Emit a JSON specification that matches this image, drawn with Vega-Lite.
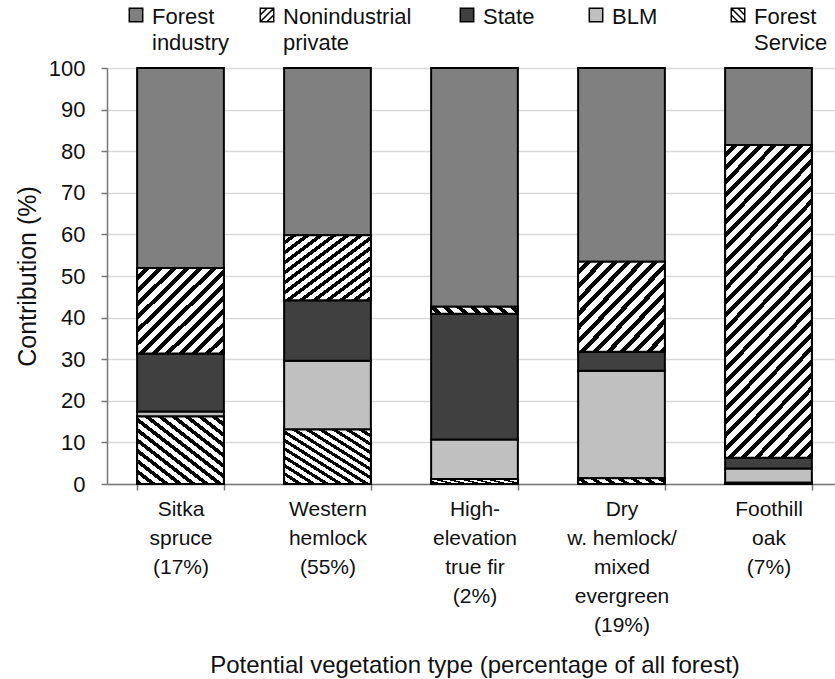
{
  "$schema": "https://vega.github.io/schema/vega-lite/v6.json",
  "autosize": {"type": "none"},
  "padding": {"left": 107, "top": 68, "right": 0, "bottom": 195},
  "width": 728,
  "height": 416,
  "background": "white",
  "config": {
    "view": {"stroke": null},
    "font": "Liberation Sans"
  },
  "data": {
    "values": [
      {"type": "Sitka|spruce|(17%)", "owner": "Forest Service", "value": 16.2},
      {"type": "Sitka|spruce|(17%)", "owner": "BLM", "value": 1.2},
      {"type": "Sitka|spruce|(17%)", "owner": "State", "value": 14.0},
      {"type": "Sitka|spruce|(17%)", "owner": "Nonindustrial private", "value": 20.5},
      {"type": "Sitka|spruce|(17%)", "owner": "Forest industry", "value": 48.1},
      {"type": "Western|hemlock|(55%)", "owner": "Forest Service", "value": 13.1},
      {"type": "Western|hemlock|(55%)", "owner": "BLM", "value": 16.5},
      {"type": "Western|hemlock|(55%)", "owner": "State", "value": 14.6},
      {"type": "Western|hemlock|(55%)", "owner": "Nonindustrial private", "value": 15.6},
      {"type": "Western|hemlock|(55%)", "owner": "Forest industry", "value": 40.2},
      {"type": "High-|elevation|true fir|(2%)", "owner": "Forest Service", "value": 1.2},
      {"type": "High-|elevation|true fir|(2%)", "owner": "BLM", "value": 9.5},
      {"type": "High-|elevation|true fir|(2%)", "owner": "State", "value": 30.2},
      {"type": "High-|elevation|true fir|(2%)", "owner": "Nonindustrial private", "value": 1.7},
      {"type": "High-|elevation|true fir|(2%)", "owner": "Forest industry", "value": 57.4},
      {"type": "Dry|w. hemlock/|mixed|evergreen|(19%)", "owner": "Forest Service", "value": 1.4},
      {"type": "Dry|w. hemlock/|mixed|evergreen|(19%)", "owner": "BLM", "value": 25.8},
      {"type": "Dry|w. hemlock/|mixed|evergreen|(19%)", "owner": "State", "value": 4.6},
      {"type": "Dry|w. hemlock/|mixed|evergreen|(19%)", "owner": "Nonindustrial private", "value": 21.6},
      {"type": "Dry|w. hemlock/|mixed|evergreen|(19%)", "owner": "Forest industry", "value": 46.6},
      {"type": "Foothill|oak|(7%)", "owner": "Forest Service", "value": 0.3},
      {"type": "Foothill|oak|(7%)", "owner": "BLM", "value": 3.4},
      {"type": "Foothill|oak|(7%)", "owner": "State", "value": 2.6},
      {"type": "Foothill|oak|(7%)", "owner": "Nonindustrial private", "value": 75.2},
      {"type": "Foothill|oak|(7%)", "owner": "Forest industry", "value": 18.5}
    ]
  },
  "transform": [
    {"calculate": "indexof(['Forest Service','BLM','State','Nonindustrial private','Forest industry'], datum.owner)", "as": "stackorder"},
    {"stack": "value", "groupby": ["type"], "sort": [{"field": "stackorder", "order": "ascending"}], "as": ["v0", "v1"]}
  ],
  "encoding": {
    "x": {
      "field": "type",
      "type": "nominal",
      "sort": null,
      "scale": {"range": [0, 735], "paddingInner": 0.41, "paddingOuter": 0.205},
      "axis": {
        "title": "Potential vegetation type (percentage of all forest)",
        "titleFontSize": 24,
        "titleFontWeight": "normal",
        "titleColor": "#111",
        "titlePadding": 18,
        "labelExpr": "split(datum.label, '|')",
        "labelAngle": 0,
        "labelFontSize": 21,
        "labelColor": "#111",
        "labelLineHeight": 29,
        "labelBaseline": "top",
        "labelPadding": 8,
        "labelLimit": 300,
        "tickBand": "extent",
        "tickSize": 6,
        "tickColor": "#777",
        "tickWidth": 1.5,
        "domainColor": "#777",
        "domainWidth": 1.5,
        "grid": false
      }
    },
    "y": {
      "field": "v0",
      "type": "quantitative",
      "scale": {"domain": [0, 100], "nice": false},
      "axis": {
        "title": "Contribution (%)",
        "titleFontSize": 25,
        "titleFontWeight": "normal",
        "titleColor": "#111",
        "titlePadding": 8,
        "values": [0, 10, 20, 30, 40, 50, 60, 70, 80, 90, 100],
        "labelFontSize": 22,
        "labelColor": "#111",
        "labelPadding": 16,
        "tickSize": 6,
        "tickColor": "#777",
        "tickWidth": 1.5,
        "domainColor": "#777",
        "domainWidth": 1.5,
        "gridColor": "#d9d9d9",
        "gridWidth": 1.5
      }
    },
    "y2": {"field": "v1"}
  },
  "layer": [
    {
      "mark": {"type": "bar", "stroke": "#000", "strokeWidth": 2},
      "encoding": {
        "color": {
          "field": "owner",
          "type": "nominal",
          "scale": {
            "domain": ["Forest industry", "Nonindustrial private", "State", "BLM", "Forest Service"],
            "range": ["#808080", "#ffffff", "#404040", "#c0c0c0", "#ffffff"]
          },
          "legend": {
            "title": null,
            "orient": "none",
            "legendX": 18,
            "legendY": -64,
            "direction": "horizontal",
            "gridAlign": "none",
            "symbolSize": 180,
            "symbolStrokeColor": "#000",
            "symbolStrokeWidth": 1.5,
            "symbolOpacity": 1,
            "labelFontSize": 22,
            "labelColor": "#111",
            "labelExpr": "datum.label === 'Forest industry' ? ['Forest', 'industry'] : datum.label === 'Nonindustrial private' ? ['Nonindustrial   \u200b', 'private'] : datum.label === 'State' ? ['State    \u200b', ''] : datum.label === 'BLM' ? ['BLM       \u200b', ''] : ['Forest', 'Service']",
            "labelLimit": 300,
            "labelOffset": 5,
            "columnPadding": 26,
            "labelBaseline": "top",
            "encode": {
              "symbols": {
                "update": {
                  "stroke": {"value": "#000"},
                  "strokeWidth": {"value": 1.5},
                  "opacity": {"value": 1}
                }
              },
              "labels": {
                "update": {
                  "dy": {"value": -8},
                  "lineHeight": {"value": 26}
                }
              }
            }
          }
        }
      }
    },
    {
      "transform": [{"filter": "datum.owner === 'Nonindustrial private' && indexof(datum.type, 'Foothill') !== 0"}],
      "mark": {
        "type": "bar", "stroke": "#000", "strokeWidth": 2,
        "fill": {"gradient": "linear", "x1": 0, "y1": 0, "x2": 1, "y2": 1, "stops": [{"offset":0,"color":"#fff"},{"offset":0.0423,"color":"#fff"},{"offset":0.0423,"color":"#000"},{"offset":0.0769,"color":"#000"},{"offset":0.0769,"color":"#fff"},{"offset":0.1192,"color":"#fff"},{"offset":0.1192,"color":"#000"},{"offset":0.1538,"color":"#000"},{"offset":0.1538,"color":"#fff"},{"offset":0.1962,"color":"#fff"},{"offset":0.1962,"color":"#000"},{"offset":0.2308,"color":"#000"},{"offset":0.2308,"color":"#fff"},{"offset":0.2731,"color":"#fff"},{"offset":0.2731,"color":"#000"},{"offset":0.3077,"color":"#000"},{"offset":0.3077,"color":"#fff"},{"offset":0.35,"color":"#fff"},{"offset":0.35,"color":"#000"},{"offset":0.3846,"color":"#000"},{"offset":0.3846,"color":"#fff"},{"offset":0.4269,"color":"#fff"},{"offset":0.4269,"color":"#000"},{"offset":0.4615,"color":"#000"},{"offset":0.4615,"color":"#fff"},{"offset":0.5038,"color":"#fff"},{"offset":0.5038,"color":"#000"},{"offset":0.5385,"color":"#000"},{"offset":0.5385,"color":"#fff"},{"offset":0.5808,"color":"#fff"},{"offset":0.5808,"color":"#000"},{"offset":0.6154,"color":"#000"},{"offset":0.6154,"color":"#fff"},{"offset":0.6577,"color":"#fff"},{"offset":0.6577,"color":"#000"},{"offset":0.6923,"color":"#000"},{"offset":0.6923,"color":"#fff"},{"offset":0.7346,"color":"#fff"},{"offset":0.7346,"color":"#000"},{"offset":0.7692,"color":"#000"},{"offset":0.7692,"color":"#fff"},{"offset":0.8115,"color":"#fff"},{"offset":0.8115,"color":"#000"},{"offset":0.8462,"color":"#000"},{"offset":0.8462,"color":"#fff"},{"offset":0.8885,"color":"#fff"},{"offset":0.8885,"color":"#000"},{"offset":0.9231,"color":"#000"},{"offset":0.9231,"color":"#fff"},{"offset":0.9654,"color":"#fff"},{"offset":0.9654,"color":"#000"},{"offset":1,"color":"#000"}]}
      }
    },
    {
      "transform": [{"filter": "datum.owner === 'Nonindustrial private' && indexof(datum.type, 'Foothill') === 0"}],
      "mark": {
        "type": "bar", "stroke": "#000", "strokeWidth": 2,
        "fill": {"gradient": "linear", "x1": 0, "y1": 0, "x2": 0.3336, "y2": 1.1876, "stops": [{"offset":0,"color":"#fff"},{"offset":0.0183,"color":"#fff"},{"offset":0.0183,"color":"#000"},{"offset":0.0333,"color":"#000"},{"offset":0.0333,"color":"#fff"},{"offset":0.0517,"color":"#fff"},{"offset":0.0517,"color":"#000"},{"offset":0.0667,"color":"#000"},{"offset":0.0667,"color":"#fff"},{"offset":0.085,"color":"#fff"},{"offset":0.085,"color":"#000"},{"offset":0.1,"color":"#000"},{"offset":0.1,"color":"#fff"},{"offset":0.1183,"color":"#fff"},{"offset":0.1183,"color":"#000"},{"offset":0.1333,"color":"#000"},{"offset":0.1333,"color":"#fff"},{"offset":0.1517,"color":"#fff"},{"offset":0.1517,"color":"#000"},{"offset":0.1667,"color":"#000"},{"offset":0.1667,"color":"#fff"},{"offset":0.185,"color":"#fff"},{"offset":0.185,"color":"#000"},{"offset":0.2,"color":"#000"},{"offset":0.2,"color":"#fff"},{"offset":0.2183,"color":"#fff"},{"offset":0.2183,"color":"#000"},{"offset":0.2333,"color":"#000"},{"offset":0.2333,"color":"#fff"},{"offset":0.2517,"color":"#fff"},{"offset":0.2517,"color":"#000"},{"offset":0.2667,"color":"#000"},{"offset":0.2667,"color":"#fff"},{"offset":0.285,"color":"#fff"},{"offset":0.285,"color":"#000"},{"offset":0.3,"color":"#000"},{"offset":0.3,"color":"#fff"},{"offset":0.3183,"color":"#fff"},{"offset":0.3183,"color":"#000"},{"offset":0.3333,"color":"#000"},{"offset":0.3333,"color":"#fff"},{"offset":0.3517,"color":"#fff"},{"offset":0.3517,"color":"#000"},{"offset":0.3667,"color":"#000"},{"offset":0.3667,"color":"#fff"},{"offset":0.385,"color":"#fff"},{"offset":0.385,"color":"#000"},{"offset":0.4,"color":"#000"},{"offset":0.4,"color":"#fff"},{"offset":0.4183,"color":"#fff"},{"offset":0.4183,"color":"#000"},{"offset":0.4333,"color":"#000"},{"offset":0.4333,"color":"#fff"},{"offset":0.4517,"color":"#fff"},{"offset":0.4517,"color":"#000"},{"offset":0.4667,"color":"#000"},{"offset":0.4667,"color":"#fff"},{"offset":0.485,"color":"#fff"},{"offset":0.485,"color":"#000"},{"offset":0.5,"color":"#000"},{"offset":0.5,"color":"#fff"},{"offset":0.5183,"color":"#fff"},{"offset":0.5183,"color":"#000"},{"offset":0.5333,"color":"#000"},{"offset":0.5333,"color":"#fff"},{"offset":0.5517,"color":"#fff"},{"offset":0.5517,"color":"#000"},{"offset":0.5667,"color":"#000"},{"offset":0.5667,"color":"#fff"},{"offset":0.585,"color":"#fff"},{"offset":0.585,"color":"#000"},{"offset":0.6,"color":"#000"},{"offset":0.6,"color":"#fff"},{"offset":0.6183,"color":"#fff"},{"offset":0.6183,"color":"#000"},{"offset":0.6333,"color":"#000"},{"offset":0.6333,"color":"#fff"},{"offset":0.6517,"color":"#fff"},{"offset":0.6517,"color":"#000"},{"offset":0.6667,"color":"#000"},{"offset":0.6667,"color":"#fff"},{"offset":0.685,"color":"#fff"},{"offset":0.685,"color":"#000"},{"offset":0.7,"color":"#000"},{"offset":0.7,"color":"#fff"},{"offset":0.7183,"color":"#fff"},{"offset":0.7183,"color":"#000"},{"offset":0.7333,"color":"#000"},{"offset":0.7333,"color":"#fff"},{"offset":0.7517,"color":"#fff"},{"offset":0.7517,"color":"#000"},{"offset":0.7667,"color":"#000"},{"offset":0.7667,"color":"#fff"},{"offset":0.785,"color":"#fff"},{"offset":0.785,"color":"#000"},{"offset":0.8,"color":"#000"},{"offset":0.8,"color":"#fff"},{"offset":0.8183,"color":"#fff"},{"offset":0.8183,"color":"#000"},{"offset":0.8333,"color":"#000"},{"offset":0.8333,"color":"#fff"},{"offset":0.8517,"color":"#fff"},{"offset":0.8517,"color":"#000"},{"offset":0.8667,"color":"#000"},{"offset":0.8667,"color":"#fff"},{"offset":0.885,"color":"#fff"},{"offset":0.885,"color":"#000"},{"offset":0.9,"color":"#000"},{"offset":0.9,"color":"#fff"},{"offset":0.9183,"color":"#fff"},{"offset":0.9183,"color":"#000"},{"offset":0.9333,"color":"#000"},{"offset":0.9333,"color":"#fff"},{"offset":0.9517,"color":"#fff"},{"offset":0.9517,"color":"#000"},{"offset":0.9667,"color":"#000"},{"offset":0.9667,"color":"#fff"},{"offset":0.985,"color":"#fff"},{"offset":0.985,"color":"#000"},{"offset":1,"color":"#000"}]}
      }
    },
    {
      "transform": [{"filter": "datum.owner === 'Forest Service'"}],
      "mark": {
        "type": "bar", "stroke": "#000", "strokeWidth": 2,
        "fill": {"gradient": "linear", "x1": 1, "y1": 0, "x2": 0, "y2": 1, "stops": [{"offset":0,"color":"#fff"},{"offset":0.0423,"color":"#fff"},{"offset":0.0423,"color":"#000"},{"offset":0.0769,"color":"#000"},{"offset":0.0769,"color":"#fff"},{"offset":0.1192,"color":"#fff"},{"offset":0.1192,"color":"#000"},{"offset":0.1538,"color":"#000"},{"offset":0.1538,"color":"#fff"},{"offset":0.1962,"color":"#fff"},{"offset":0.1962,"color":"#000"},{"offset":0.2308,"color":"#000"},{"offset":0.2308,"color":"#fff"},{"offset":0.2731,"color":"#fff"},{"offset":0.2731,"color":"#000"},{"offset":0.3077,"color":"#000"},{"offset":0.3077,"color":"#fff"},{"offset":0.35,"color":"#fff"},{"offset":0.35,"color":"#000"},{"offset":0.3846,"color":"#000"},{"offset":0.3846,"color":"#fff"},{"offset":0.4269,"color":"#fff"},{"offset":0.4269,"color":"#000"},{"offset":0.4615,"color":"#000"},{"offset":0.4615,"color":"#fff"},{"offset":0.5038,"color":"#fff"},{"offset":0.5038,"color":"#000"},{"offset":0.5385,"color":"#000"},{"offset":0.5385,"color":"#fff"},{"offset":0.5808,"color":"#fff"},{"offset":0.5808,"color":"#000"},{"offset":0.6154,"color":"#000"},{"offset":0.6154,"color":"#fff"},{"offset":0.6577,"color":"#fff"},{"offset":0.6577,"color":"#000"},{"offset":0.6923,"color":"#000"},{"offset":0.6923,"color":"#fff"},{"offset":0.7346,"color":"#fff"},{"offset":0.7346,"color":"#000"},{"offset":0.7692,"color":"#000"},{"offset":0.7692,"color":"#fff"},{"offset":0.8115,"color":"#fff"},{"offset":0.8115,"color":"#000"},{"offset":0.8462,"color":"#000"},{"offset":0.8462,"color":"#fff"},{"offset":0.8885,"color":"#fff"},{"offset":0.8885,"color":"#000"},{"offset":0.9231,"color":"#000"},{"offset":0.9231,"color":"#fff"},{"offset":0.9654,"color":"#fff"},{"offset":0.9654,"color":"#000"},{"offset":1,"color":"#000"}]}
      }
    },
    {
      "mark": {"type": "point", "filled": true, "opacity": 0, "size": 1},
      "encoding": {
        "y2": null,
        "color": {
          "field": "owner",
          "type": "nominal",
          "scale": {
            "domain": ["Forest industry", "Nonindustrial private", "State", "BLM", "Forest Service"],
            "range": ["#808080", "#ffffff", "#404040", "#c0c0c0", "#ffffff"]
          }
        },
        "shape": {
          "field": "owner",
          "type": "nominal",
          "scale": {
            "domain": ["Forest industry", "Nonindustrial private", "State", "BLM", "Forest Service"],
            "range": ["M-1,-1H1V1H-1Z", "M-1,-1H1V1H-1Z M-1,0L0,-1 M-1,1L1,-1 M0,1L1,0", "M-1,-1H1V1H-1Z", "M-1,-1H1V1H-1Z", "M-1,-1H1V1H-1Z M0,-1L1,0 M-1,-1L1,1 M-1,0L0,1"]
          }
        }
      }
    }
  ]
}
